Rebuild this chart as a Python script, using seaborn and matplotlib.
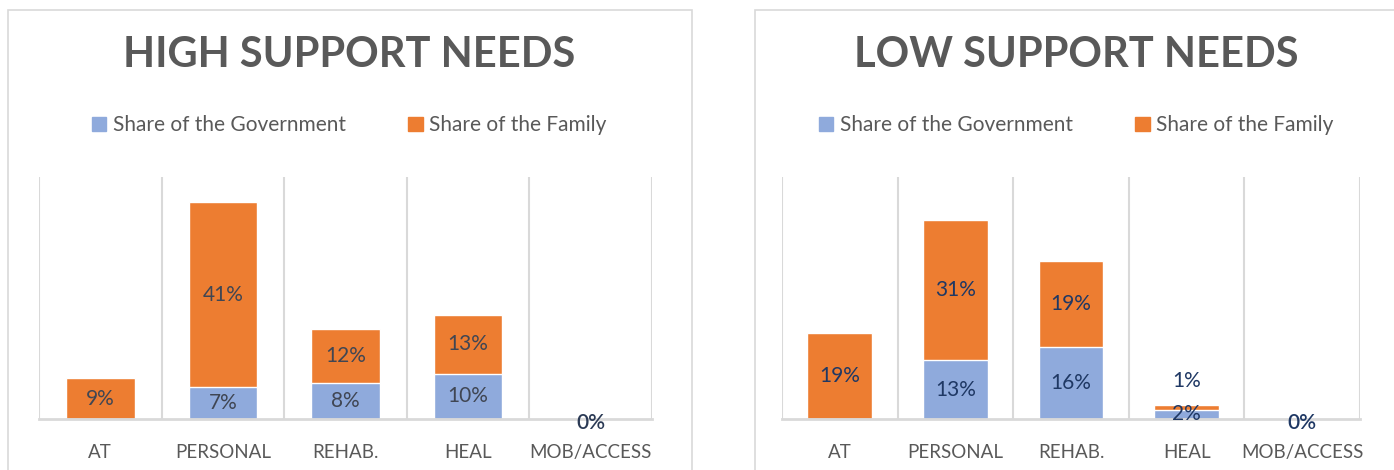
import matplotlib
matplotlib.use("Agg")
import matplotlib.pyplot as plt
import seaborn as sns
import pandas as pd
from matplotlib.patches import Rectangle

categories = ['AT', 'PERSONAL', 'REHAB.', 'HEAL', 'MOB/ACCESS']

high_gov = [0, 7, 8, 10, 0]
high_fam = [9, 41, 12, 13, 0]

low_gov = [0, 13, 16, 2, 0]
low_fam = [19, 31, 19, 1, 0]

gov_color = '#8faadc'
fam_color = '#ed7d31'
grid_color = '#d9d9d9'
text_grey = '#595959'

sns.set_theme(style='white')
plt.rcParams['font.family'] = ['Lato', 'DejaVu Sans']

fig = plt.figure(figsize=(13.94, 4.70), dpi=100)

# panel frames (extend past the bottom / right edges like the source)
fig.patches.append(Rectangle((8 / 1394, -0.1), 684 / 1394, 1.1 - 10 / 470,
                             transform=fig.transFigure, fill=False,
                             edgecolor=grid_color, lw=1.2))
fig.patches.append(Rectangle((755 / 1394, -0.1), 0.5, 1.1 - 10 / 470,
                             transform=fig.transFigure, fill=False,
                             edgecolor=grid_color, lw=1.2))


def draw_panel(rect, title, gov, fam, label_color, zero_color, title_x):
    ax = fig.add_axes(rect)
    df = pd.DataFrame({'cat': categories, 'gov': gov, 'fam': fam})
    df['total'] = df['gov'] + df['fam']

    # stacked: family on top of government
    sns.barplot(data=df, x='cat', y='total', color=fam_color, width=0.56,
                saturation=1, ax=ax, zorder=3)
    sns.barplot(data=df, x='cat', y='gov', color=gov_color, width=0.56,
                saturation=1, ax=ax, zorder=4)

    ax.set_xlim(-0.5, len(categories) - 0.5)
    ax.set_ylim(0, 53.5)
    ax.set_xlabel('')
    ax.set_ylabel('')
    ax.set_yticks([])
    for s in ['top', 'right', 'left']:
        ax.spines[s].set_visible(False)
    ax.spines['bottom'].set_color(grid_color)
    ax.spines['bottom'].set_linewidth(2)
    ax.spines['bottom'].set_zorder(5)
    for b in range(len(categories) + 1):
        ax.axvline(b - 0.5, color=grid_color, lw=1.5, zorder=1)

    ax.tick_params(axis='x', length=0, pad=18)
    ax.set_xticks(range(len(categories)))
    ax.set_xticklabels(categories, color=text_grey, fontsize=13.5)

    for i, (g, f) in enumerate(zip(gov, fam)):
        if g == 0 and f == 0:
            ax.text(i, -0.9, '0%', ha='center', va='center', fontsize=15,
                    color=zero_color, fontweight='semibold', zorder=6,
                    clip_on=False)
            continue
        if g > 0:
            ax.text(i, g / 2, f'{g}%', ha='center', va='center', fontsize=15,
                    color=label_color, zorder=6)
        if f > 0:
            y = g + f / 2 if f >= 3 else g + f + 5.5
            ax.text(i, y, f'{f}%', ha='center', va='center', fontsize=15,
                    color=label_color, zorder=6)

    fig.text(title_x, 0.883, title, ha='center', va='center', fontsize=30,
             fontweight='bold', color=text_grey)

    handles = [Rectangle((0, 0), 1, 1, color=gov_color),
               Rectangle((0, 0), 1, 1, color=fam_color)]
    leg = fig.legend(handles, ['Share of the Government', 'Share of the Family'],
                     loc='center', bbox_to_anchor=(title_x, 0.733), ncol=2,
                     frameon=False, fontsize=15, handlelength=0.7,
                     handleheight=0.7, handletextpad=0.3, columnspacing=3.0)
    for t in leg.get_texts():
        t.set_color(text_grey)
    return ax


draw_panel([39 / 1394, 51 / 470, 613 / 1394, 242 / 470], 'HIGH SUPPORT NEEDS',
           high_gov, high_fam, '#404653', '#2b3a55', 349 / 1394)
draw_panel([782 / 1394, 51 / 470, 578 / 1394, 242 / 470], 'LOW SUPPORT NEEDS',
           low_gov, low_fam, '#1f3864', '#1f3864', 1076 / 1394)

fig.savefig('out.png', dpi=100)
